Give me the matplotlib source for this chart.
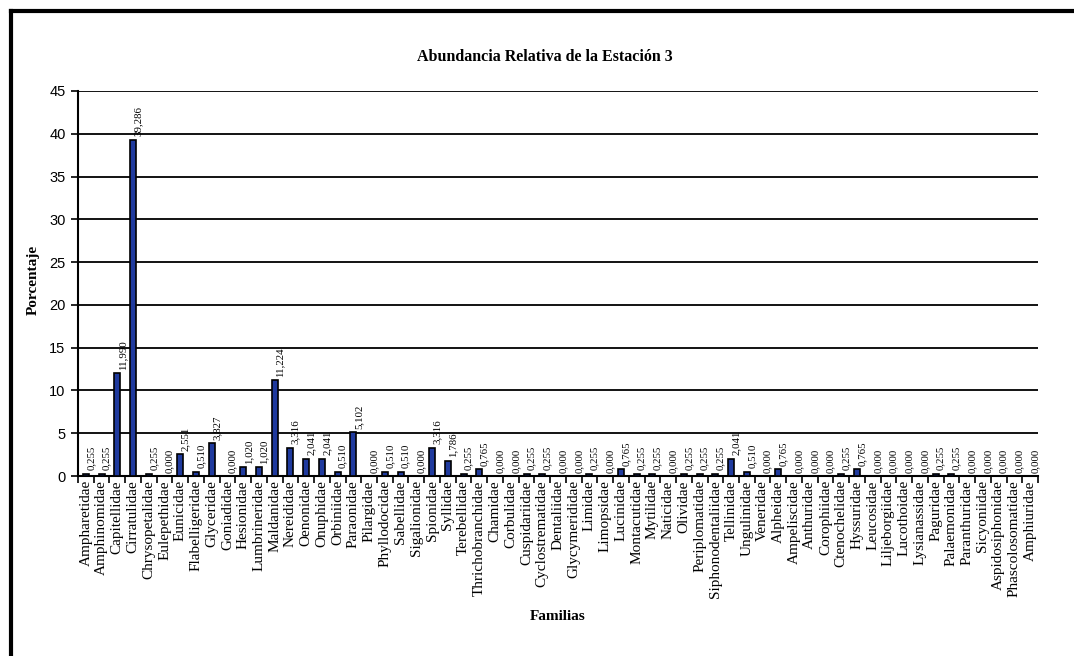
import matplotlib
matplotlib.use("Agg")
import matplotlib.pyplot as plt
from matplotlib.lines import Line2D
import numpy as np

familias = ["Ampharetidae", "Amphinomidae", "Capitellidae", "Cirratulidae", "Chrysopetalidae",
            "Eulepethidae", "Eunicidae", "Flabelligeridae", "Glyceridae", "Goniadidae",
            "Hesionidae", "Lumbrineridae", "Maldanidae", "Nereididae", "Oenonidae",
            "Onuphidae", "Orbiniidae", "Paraonidae", "Pilargidae", "Phyllodocidae",
            "Sabellidae", "Sigalionidae", "Spionidae", "Syllidae", "Terebellidae",
            "Thrichobranchidae", "Chamidae", "Corbulidae", "Cuspidariidae", "Cyclostrematidae",
            "Dentaliidae", "Glycymerididae", "Limidae", "Limopsidae", "Lucinidae",
            "Montacutidae", "Mytilidae", "Naticidae", "Olividae", "Periplomatidae",
            "Siphonodentaliidae", "Tellinidae", "Ungulinidae", "Veneridae", "Alpheidae",
            "Ampeliscidae", "Anthuridae", "Corophiidae", "Ctenochelidae", "Hyssuridae",
            "Leucosidae", "Liljeborgiidae", "Lucothoidae", "Lysianassidae", "Paguridae",
            "Palaemonidae", "Paranthuridae", "Sicyoniidae", "Aspidosiphonidae", "Phascolosomatidae",
            "Amphiuridae"]

porcentaje = [0.255, 0.255, 11.990, 39.286, 0.255,
              0.000, 2.551, 0.510, 3.827, 0.000,
              1.020, 1.020, 11.224, 3.316, 2.041,
              2.041, 0.510, 5.102, 0.000, 0.510,
              0.510, 0.000, 3.316, 1.786, 0.255,
              0.765, 0.000, 0.000, 0.255, 0.255,
              0.000, 0.000, 0.255, 0.000, 0.765,
              0.255, 0.255, 0.000, 0.255, 0.255,
              0.255, 2.041, 0.510, 0.000, 0.765,
              0.000, 0.000, 0.000, 0.255, 0.765,
              0.000, 0.000, 0.000, 0.000, 0.255,
              0.255, 0.000, 0.000, 0.000, 0.000,
              0.000]

yticks = [0, 5, 10, 15, 20, 25, 30, 35, 40, 45]

W, H = 1074, 656
fig = plt.figure(figsize=(W / 100, H / 100), dpi=100)
ax = fig.add_axes([78 / W, 1 - 476 / H, (1038 - 78) / W, (476 - 91) / H])

x = np.arange(len(familias))
ax.bar(x, porcentaje, width=0.38, color="#1f3a9e", edgecolor="black", linewidth=1.2, zorder=3)

for xi, v in zip(x, porcentaje):
    ax.text(xi + 0.33, v + 0.4, f"{v:.3f}".replace(".", ","), rotation=90,
            ha="center", va="bottom", fontsize=7.8, family="Liberation Serif", zorder=4)

ax.set_xlim(-0.5, len(familias) - 0.5)
ax.set_ylim(0, 45)
ax.set_yticks(yticks)
ax.set_yticklabels([str(t) for t in yticks], family="Liberation Sans", fontsize=10.5)
ax.yaxis.grid(True, color="black", linewidth=1.3, zorder=0)
ax.set_axisbelow(True)

ax.set_xticks(x)
ax.set_xticklabels(familias, rotation=90, family="Liberation Serif", fontsize=11)
ax.tick_params(axis="x", length=0, pad=3)
ax.set_xticks(np.arange(-0.5, len(familias)), minor=True)
ax.tick_params(axis="x", which="minor", length=5, width=1.2, direction="out")
ax.tick_params(axis="y", length=5, width=1.2, direction="out", pad=4)

for s in ["top", "right"]:
    ax.spines[s].set_visible(False)
ax.spines["left"].set_linewidth(1.5)
ax.spines["bottom"].set_linewidth(1.5)

fig.text(545 / W, 1 - 57 / H, "Abundancia Relativa de la Estación 3", family="Liberation Serif",
         fontweight="bold", fontsize=11.5, ha="center", va="center")
fig.text(558 / W, 1 - 617 / H, "Familias", family="Liberation Serif", fontweight="bold",
         fontsize=11, ha="center", va="center")
fig.text(33 / W, 1 - 280 / H, "Porcentaje", family="Liberation Serif", fontweight="bold",
         fontsize=11, ha="center", va="center", rotation=90)

# outer frame (left and top edges)
fig.add_artist(Line2D([11 / W, 11 / W], [0, 1 - 11 / H], color="black", linewidth=3,
                      transform=fig.transFigure))
fig.add_artist(Line2D([11 / W, 1], [1 - 11 / H, 1 - 11 / H], color="black", linewidth=3,
                      transform=fig.transFigure))

fig.savefig("out.png", dpi=100)
